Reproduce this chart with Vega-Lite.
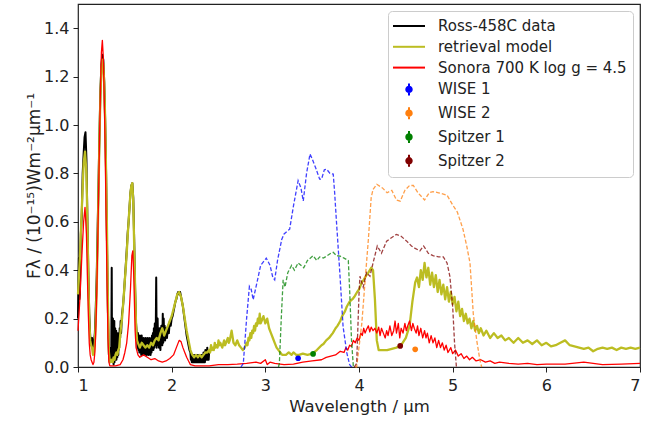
{
  "$schema": "https://vega.github.io/schema/vega-lite/v6.json",
  "width": 562,
  "height": 363,
  "autosize": {"type": "none"},
  "padding": {"left": 78, "top": 4, "right": 20, "bottom": 55},
  "background": "white",
  "config": {
    "font": "DejaVu Sans",
    "view": {"stroke": "#222222", "strokeWidth": 1.2},
    "axis": {
      "grid": false,
      "domain": false,
      "tickColor": "#222222",
      "tickSize": 5,
      "tickWidth": 1,
      "labelFont": "DejaVu Sans",
      "labelFontSize": 16,
      "labelColor": "#222222",
      "labelPadding": 4,
      "titleFont": "DejaVu Sans",
      "titleFontSize": 16.5,
      "titleFontWeight": "normal",
      "titleColor": "#222222"
    },
    "legend": {
      "labelFont": "DejaVu Sans",
      "labelFontSize": 15,
      "labelColor": "#222222"
    }
  },
  "datasets": {
    "spectra": [
      {"series":"Ross-458C data","wl":1.00,"flux":0.20},{"series":"Ross-458C data","wl":1.005,"flux":0.35},{"series":"Ross-458C data","wl":1.01,"flux":0.45},{"series":"Ross-458C data","wl":1.015,"flux":0.28},{"series":"Ross-458C data","wl":1.02,"flux":0.30},{"series":"Ross-458C data","wl":1.03,"flux":0.55},{"series":"Ross-458C data","wl":1.04,"flux":0.62},{"series":"Ross-458C data","wl":1.05,"flux":0.80},{"series":"Ross-458C data","wl":1.06,"flux":0.88},{"series":"Ross-458C data","wl":1.07,"flux":0.95},{"series":"Ross-458C data","wl":1.08,"flux":0.97},{"series":"Ross-458C data","wl":1.09,"flux":0.86},{"series":"Ross-458C data","wl":1.10,"flux":0.62},{"series":"Ross-458C data","wl":1.11,"flux":0.40},{"series":"Ross-458C data","wl":1.12,"flux":0.22},{"series":"Ross-458C data","wl":1.13,"flux":0.13},{"series":"Ross-458C data","wl":1.14,"flux":0.10},{"series":"Ross-458C data","wl":1.15,"flux":0.12},{"series":"Ross-458C data","wl":1.16,"flux":0.08},{"series":"Ross-458C data","wl":1.17,"flux":0.10},{"series":"Ross-458C data","wl":1.18,"flux":0.14},{"series":"Ross-458C data","wl":1.19,"flux":0.25},{"series":"Ross-458C data","wl":1.20,"flux":0.38},{"series":"Ross-458C data","wl":1.21,"flux":0.58},{"series":"Ross-458C data","wl":1.22,"flux":0.78},{"series":"Ross-458C data","wl":1.23,"flux":0.98},{"series":"Ross-458C data","wl":1.24,"flux":1.15},{"series":"Ross-458C data","wl":1.25,"flux":1.25},{"series":"Ross-458C data","wl":1.26,"flux":1.29},{"series":"Ross-458C data","wl":1.27,"flux":1.27},{"series":"Ross-458C data","wl":1.28,"flux":1.18},{"series":"Ross-458C data","wl":1.29,"flux":1.02},{"series":"Ross-458C data","wl":1.30,"flux":0.80},{"series":"Ross-458C data","wl":1.31,"flux":0.50},{"series":"Ross-458C data","wl":1.32,"flux":0.22},{"series":"Ross-458C data","wl":1.33,"flux":0.05},{"series":"Ross-458C data","wl":1.34,"flux":0.02},{"series":"Ross-458C data","wl":1.35,"flux":0.08},{"series":"Ross-458C data","wl":1.355,"flux":0.03},{"series":"Ross-458C data","wl":1.36,"flux":0.41},{"series":"Ross-458C data","wl":1.3625,"flux":0.10},{"series":"Ross-458C data","wl":1.365,"flux":0.03},{"series":"Ross-458C data","wl":1.3675,"flux":0.18},{"series":"Ross-458C data","wl":1.37,"flux":0.02},{"series":"Ross-458C data","wl":1.3725,"flux":0.20},{"series":"Ross-458C data","wl":1.375,"flux":0.03},{"series":"Ross-458C data","wl":1.3775,"flux":0.15},{"series":"Ross-458C data","wl":1.38,"flux":0.01},{"series":"Ross-458C data","wl":1.3825,"flux":0.17},{"series":"Ross-458C data","wl":1.385,"flux":0.04},{"series":"Ross-458C data","wl":1.3875,"flux":0.19},{"series":"Ross-458C data","wl":1.39,"flux":0.02},{"series":"Ross-458C data","wl":1.3925,"flux":0.14},{"series":"Ross-458C data","wl":1.395,"flux":0.04},{"series":"Ross-458C data","wl":1.3975,"flux":0.16},{"series":"Ross-458C data","wl":1.40,"flux":0.03},{"series":"Ross-458C data","wl":1.4025,"flux":0.13},{"series":"Ross-458C data","wl":1.405,"flux":0.05},{"series":"Ross-458C data","wl":1.4075,"flux":0.15},{"series":"Ross-458C data","wl":1.41,"flux":0.03},{"series":"Ross-458C data","wl":1.4125,"flux":0.12},{"series":"Ross-458C data","wl":1.415,"flux":0.05},{"series":"Ross-458C data","wl":1.4175,"flux":0.14},{"series":"Ross-458C data","wl":1.42,"flux":0.04},{"series":"Ross-458C data","wl":1.4225,"flux":0.12},{"series":"Ross-458C data","wl":1.425,"flux":0.06},{"series":"Ross-458C data","wl":1.4275,"flux":0.13},{"series":"Ross-458C data","wl":1.43,"flux":0.05},{"series":"Ross-458C data","wl":1.4325,"flux":0.12},{"series":"Ross-458C data","wl":1.435,"flux":0.07},{"series":"Ross-458C data","wl":1.4375,"flux":0.14},{"series":"Ross-458C data","wl":1.44,"flux":0.08},{"series":"Ross-458C data","wl":1.445,"flux":0.16},{"series":"Ross-458C data","wl":1.45,"flux":0.12},{"series":"Ross-458C data","wl":1.455,"flux":0.19},{"series":"Ross-458C data","wl":1.46,"flux":0.14},{"series":"Ross-458C data","wl":1.47,"flux":0.22},{"series":"Ross-458C data","wl":1.48,"flux":0.25},{"series":"Ross-458C data","wl":1.49,"flux":0.30},{"series":"Ross-458C data","wl":1.50,"flux":0.36},{"series":"Ross-458C data","wl":1.51,"flux":0.42},{"series":"Ross-458C data","wl":1.52,"flux":0.48},{"series":"Ross-458C data","wl":1.53,"flux":0.55},{"series":"Ross-458C data","wl":1.54,"flux":0.60},{"series":"Ross-458C data","wl":1.55,"flux":0.66},{"series":"Ross-458C data","wl":1.56,"flux":0.72},{"series":"Ross-458C data","wl":1.57,"flux":0.75},{"series":"Ross-458C data","wl":1.58,"flux":0.76},{"series":"Ross-458C data","wl":1.59,"flux":0.70},{"series":"Ross-458C data","wl":1.60,"flux":0.52},{"series":"Ross-458C data","wl":1.61,"flux":0.32},{"series":"Ross-458C data","wl":1.62,"flux":0.18},{"series":"Ross-458C data","wl":1.63,"flux":0.12},{"series":"Ross-458C data","wl":1.635,"flux":0.08},{"series":"Ross-458C data","wl":1.64,"flux":0.14},{"series":"Ross-458C data","wl":1.645,"flux":0.07},{"series":"Ross-458C data","wl":1.65,"flux":0.12},{"series":"Ross-458C data","wl":1.655,"flux":0.06},{"series":"Ross-458C data","wl":1.66,"flux":0.13},{"series":"Ross-458C data","wl":1.665,"flux":0.06},{"series":"Ross-458C data","wl":1.67,"flux":0.12},{"series":"Ross-458C data","wl":1.675,"flux":0.05},{"series":"Ross-458C data","wl":1.68,"flux":0.13},{"series":"Ross-458C data","wl":1.685,"flux":0.06},{"series":"Ross-458C data","wl":1.69,"flux":0.12},{"series":"Ross-458C data","wl":1.695,"flux":0.05},{"series":"Ross-458C data","wl":1.70,"flux":0.12},{"series":"Ross-458C data","wl":1.705,"flux":0.06},{"series":"Ross-458C data","wl":1.71,"flux":0.11},{"series":"Ross-458C data","wl":1.715,"flux":0.05},{"series":"Ross-458C data","wl":1.72,"flux":0.12},{"series":"Ross-458C data","wl":1.725,"flux":0.06},{"series":"Ross-458C data","wl":1.73,"flux":0.11},{"series":"Ross-458C data","wl":1.735,"flux":0.05},{"series":"Ross-458C data","wl":1.74,"flux":0.12},{"series":"Ross-458C data","wl":1.745,"flux":0.06},{"series":"Ross-458C data","wl":1.75,"flux":0.11},{"series":"Ross-458C data","wl":1.755,"flux":0.05},{"series":"Ross-458C data","wl":1.76,"flux":0.12},{"series":"Ross-458C data","wl":1.765,"flux":0.06},{"series":"Ross-458C data","wl":1.77,"flux":0.11},{"series":"Ross-458C data","wl":1.775,"flux":0.05},{"series":"Ross-458C data","wl":1.78,"flux":0.12},{"series":"Ross-458C data","wl":1.785,"flux":0.06},{"series":"Ross-458C data","wl":1.79,"flux":0.13},{"series":"Ross-458C data","wl":1.795,"flux":0.07},{"series":"Ross-458C data","wl":1.80,"flux":0.14},{"series":"Ross-458C data","wl":1.805,"flux":0.07},{"series":"Ross-458C data","wl":1.81,"flux":0.16},{"series":"Ross-458C data","wl":1.815,"flux":0.08},{"series":"Ross-458C data","wl":1.82,"flux":0.18},{"series":"Ross-458C data","wl":1.825,"flux":0.09},{"series":"Ross-458C data","wl":1.83,"flux":0.14},{"series":"Ross-458C data","wl":1.835,"flux":0.37},{"series":"Ross-458C data","wl":1.84,"flux":0.08},{"series":"Ross-458C data","wl":1.845,"flux":0.15},{"series":"Ross-458C data","wl":1.85,"flux":0.20},{"series":"Ross-458C data","wl":1.855,"flux":0.09},{"series":"Ross-458C data","wl":1.86,"flux":0.14},{"series":"Ross-458C data","wl":1.865,"flux":0.08},{"series":"Ross-458C data","wl":1.87,"flux":0.16},{"series":"Ross-458C data","wl":1.875,"flux":0.09},{"series":"Ross-458C data","wl":1.88,"flux":0.07},{"series":"Ross-458C data","wl":1.885,"flux":0.14},{"series":"Ross-458C data","wl":1.89,"flux":0.17},{"series":"Ross-458C data","wl":1.895,"flux":0.10},{"series":"Ross-458C data","wl":1.90,"flux":0.09},{"series":"Ross-458C data","wl":1.905,"flux":0.22},{"series":"Ross-458C data","wl":1.91,"flux":0.10},{"series":"Ross-458C data","wl":1.915,"flux":0.20},{"series":"Ross-458C data","wl":1.92,"flux":0.12},{"series":"Ross-458C data","wl":1.925,"flux":0.17},{"series":"Ross-458C data","wl":1.93,"flux":0.11},{"series":"Ross-458C data","wl":1.94,"flux":0.16},{"series":"Ross-458C data","wl":1.95,"flux":0.12},{"series":"Ross-458C data","wl":1.96,"flux":0.17},{"series":"Ross-458C data","wl":1.97,"flux":0.14},{"series":"Ross-458C data","wl":1.98,"flux":0.19},{"series":"Ross-458C data","wl":1.99,"flux":0.17},{"series":"Ross-458C data","wl":2.00,"flux":0.20},{"series":"Ross-458C data","wl":2.01,"flux":0.21},{"series":"Ross-458C data","wl":2.02,"flux":0.23},{"series":"Ross-458C data","wl":2.03,"flux":0.25},{"series":"Ross-458C data","wl":2.04,"flux":0.27},{"series":"Ross-458C data","wl":2.05,"flux":0.28},{"series":"Ross-458C data","wl":2.06,"flux":0.30},{"series":"Ross-458C data","wl":2.07,"flux":0.31},{"series":"Ross-458C data","wl":2.08,"flux":0.30},{"series":"Ross-458C data","wl":2.09,"flux":0.31},{"series":"Ross-458C data","wl":2.10,"flux":0.29},{"series":"Ross-458C data","wl":2.11,"flux":0.27},{"series":"Ross-458C data","wl":2.12,"flux":0.25},{"series":"Ross-458C data","wl":2.13,"flux":0.22},{"series":"Ross-458C data","wl":2.14,"flux":0.19},{"series":"Ross-458C data","wl":2.15,"flux":0.16},{"series":"Ross-458C data","wl":2.16,"flux":0.13},{"series":"Ross-458C data","wl":2.17,"flux":0.11},{"series":"Ross-458C data","wl":2.18,"flux":0.09},{"series":"Ross-458C data","wl":2.19,"flux":0.07},{"series":"Ross-458C data","wl":2.20,"flux":0.06},{"series":"Ross-458C data","wl":2.205,"flux":0.03},{"series":"Ross-458C data","wl":2.21,"flux":0.05},{"series":"Ross-458C data","wl":2.215,"flux":0.02},{"series":"Ross-458C data","wl":2.22,"flux":0.05},{"series":"Ross-458C data","wl":2.225,"flux":0.02},{"series":"Ross-458C data","wl":2.23,"flux":0.04},{"series":"Ross-458C data","wl":2.235,"flux":0.02},{"series":"Ross-458C data","wl":2.24,"flux":0.05},{"series":"Ross-458C data","wl":2.245,"flux":0.02},{"series":"Ross-458C data","wl":2.25,"flux":0.04},{"series":"Ross-458C data","wl":2.255,"flux":0.02},{"series":"Ross-458C data","wl":2.26,"flux":0.05},{"series":"Ross-458C data","wl":2.265,"flux":0.02},{"series":"Ross-458C data","wl":2.27,"flux":0.04},{"series":"Ross-458C data","wl":2.275,"flux":0.02},{"series":"Ross-458C data","wl":2.28,"flux":0.05},{"series":"Ross-458C data","wl":2.285,"flux":0.02},{"series":"Ross-458C data","wl":2.29,"flux":0.04},{"series":"Ross-458C data","wl":2.295,"flux":0.02},{"series":"Ross-458C data","wl":2.30,"flux":0.05},{"series":"Ross-458C data","wl":2.305,"flux":0.02},{"series":"Ross-458C data","wl":2.31,"flux":0.04},{"series":"Ross-458C data","wl":2.315,"flux":0.02},{"series":"Ross-458C data","wl":2.32,"flux":0.05},{"series":"Ross-458C data","wl":2.325,"flux":0.02},{"series":"Ross-458C data","wl":2.33,"flux":0.04},{"series":"Ross-458C data","wl":2.335,"flux":0.02},{"series":"Ross-458C data","wl":2.34,"flux":0.06},{"series":"Ross-458C data","wl":2.345,"flux":0.02},{"series":"Ross-458C data","wl":2.35,"flux":0.05},{"series":"Ross-458C data","wl":2.355,"flux":0.02},{"series":"Ross-458C data","wl":2.36,"flux":0.07},{"series":"Ross-458C data","wl":2.365,"flux":0.03},{"series":"Ross-458C data","wl":2.37,"flux":0.06},{"series":"Ross-458C data","wl":2.375,"flux":0.03},{"series":"Ross-458C data","wl":2.38,"flux":0.08},{"series":"Ross-458C data","wl":2.385,"flux":0.03},{"series":"Ross-458C data","wl":2.39,"flux":0.06},{"series":"Ross-458C data","wl":2.395,"flux":0.03},{"series":"Ross-458C data","wl":2.40,"flux":0.06},

      {"series":"retrieval model","wl":1.00,"flux":0.30},{"series":"retrieval model","wl":1.02,"flux":0.45},{"series":"retrieval model","wl":1.04,"flux":0.65},{"series":"retrieval model","wl":1.06,"flux":0.84},{"series":"retrieval model","wl":1.075,"flux":0.89},{"series":"retrieval model","wl":1.09,"flux":0.80},{"series":"retrieval model","wl":1.10,"flux":0.60},{"series":"retrieval model","wl":1.11,"flux":0.38},{"series":"retrieval model","wl":1.12,"flux":0.20},{"series":"retrieval model","wl":1.13,"flux":0.11},{"series":"retrieval model","wl":1.14,"flux":0.09},{"series":"retrieval model","wl":1.15,"flux":0.08},{"series":"retrieval model","wl":1.16,"flux":0.05},{"series":"retrieval model","wl":1.17,"flux":0.06},{"series":"retrieval model","wl":1.18,"flux":0.10},{"series":"retrieval model","wl":1.19,"flux":0.20},{"series":"retrieval model","wl":1.20,"flux":0.33},{"series":"retrieval model","wl":1.21,"flux":0.52},{"series":"retrieval model","wl":1.22,"flux":0.75},{"series":"retrieval model","wl":1.23,"flux":0.96},{"series":"retrieval model","wl":1.24,"flux":1.13},{"series":"retrieval model","wl":1.25,"flux":1.23},{"series":"retrieval model","wl":1.26,"flux":1.27},{"series":"retrieval model","wl":1.27,"flux":1.25},{"series":"retrieval model","wl":1.28,"flux":1.17},{"series":"retrieval model","wl":1.29,"flux":1.02},{"series":"retrieval model","wl":1.30,"flux":0.80},{"series":"retrieval model","wl":1.31,"flux":0.55},{"series":"retrieval model","wl":1.32,"flux":0.25},{"series":"retrieval model","wl":1.33,"flux":0.06},{"series":"retrieval model","wl":1.34,"flux":0.02},{"series":"retrieval model","wl":1.35,"flux":0.02},{"series":"retrieval model","wl":1.36,"flux":0.03},{"series":"retrieval model","wl":1.37,"flux":0.02},{"series":"retrieval model","wl":1.38,"flux":0.04},{"series":"retrieval model","wl":1.39,"flux":0.03},{"series":"retrieval model","wl":1.40,"flux":0.05},{"series":"retrieval model","wl":1.41,"flux":0.06},{"series":"retrieval model","wl":1.42,"flux":0.05},{"series":"retrieval model","wl":1.43,"flux":0.07},{"series":"retrieval model","wl":1.44,"flux":0.08},{"series":"retrieval model","wl":1.45,"flux":0.13},{"series":"retrieval model","wl":1.46,"flux":0.17},{"series":"retrieval model","wl":1.47,"flux":0.20},{"series":"retrieval model","wl":1.48,"flux":0.25},{"series":"retrieval model","wl":1.49,"flux":0.30},{"series":"retrieval model","wl":1.50,"flux":0.36},{"series":"retrieval model","wl":1.51,"flux":0.41},{"series":"retrieval model","wl":1.52,"flux":0.47},{"series":"retrieval model","wl":1.53,"flux":0.54},{"series":"retrieval model","wl":1.54,"flux":0.60},{"series":"retrieval model","wl":1.55,"flux":0.66},{"series":"retrieval model","wl":1.56,"flux":0.72},{"series":"retrieval model","wl":1.57,"flux":0.75},{"series":"retrieval model","wl":1.58,"flux":0.76},{"series":"retrieval model","wl":1.59,"flux":0.68},{"series":"retrieval model","wl":1.60,"flux":0.50},{"series":"retrieval model","wl":1.61,"flux":0.32},{"series":"retrieval model","wl":1.62,"flux":0.17},{"series":"retrieval model","wl":1.63,"flux":0.11},{"series":"retrieval model","wl":1.64,"flux":0.10},{"series":"retrieval model","wl":1.66,"flux":0.08},{"series":"retrieval model","wl":1.68,"flux":0.10},{"series":"retrieval model","wl":1.70,"flux":0.09},{"series":"retrieval model","wl":1.72,"flux":0.08},{"series":"retrieval model","wl":1.74,"flux":0.09},{"series":"retrieval model","wl":1.76,"flux":0.08},{"series":"retrieval model","wl":1.78,"flux":0.10},{"series":"retrieval model","wl":1.80,"flux":0.09},{"series":"retrieval model","wl":1.82,"flux":0.11},{"series":"retrieval model","wl":1.84,"flux":0.12},{"series":"retrieval model","wl":1.86,"flux":0.11},{"series":"retrieval model","wl":1.88,"flux":0.14},{"series":"retrieval model","wl":1.90,"flux":0.16},{"series":"retrieval model","wl":1.92,"flux":0.13},{"series":"retrieval model","wl":1.94,"flux":0.15},{"series":"retrieval model","wl":1.96,"flux":0.17},{"series":"retrieval model","wl":1.98,"flux":0.19},{"series":"retrieval model","wl":2.00,"flux":0.21},{"series":"retrieval model","wl":2.02,"flux":0.24},{"series":"retrieval model","wl":2.04,"flux":0.27},{"series":"retrieval model","wl":2.06,"flux":0.30},{"series":"retrieval model","wl":2.08,"flux":0.31},{"series":"retrieval model","wl":2.10,"flux":0.29},{"series":"retrieval model","wl":2.12,"flux":0.25},{"series":"retrieval model","wl":2.14,"flux":0.20},{"series":"retrieval model","wl":2.16,"flux":0.15},{"series":"retrieval model","wl":2.18,"flux":0.11},{"series":"retrieval model","wl":2.20,"flux":0.07},{"series":"retrieval model","wl":2.22,"flux":0.05},{"series":"retrieval model","wl":2.24,"flux":0.04},{"series":"retrieval model","wl":2.26,"flux":0.05},{"series":"retrieval model","wl":2.28,"flux":0.04},{"series":"retrieval model","wl":2.30,"flux":0.05},{"series":"retrieval model","wl":2.32,"flux":0.04},{"series":"retrieval model","wl":2.34,"flux":0.05},{"series":"retrieval model","wl":2.36,"flux":0.06},{"series":"retrieval model","wl":2.38,"flux":0.06},{"series":"retrieval model","wl":2.40,"flux":0.07},{"series":"retrieval model","wl":2.41,"flux":0.06},{"series":"retrieval model","wl":2.42,"flux":0.09},{"series":"retrieval model","wl":2.43,"flux":0.07},{"series":"retrieval model","wl":2.44,"flux":0.08},{"series":"retrieval model","wl":2.45,"flux":0.07},{"series":"retrieval model","wl":2.46,"flux":0.10},{"series":"retrieval model","wl":2.47,"flux":0.08},{"series":"retrieval model","wl":2.48,"flux":0.09},{"series":"retrieval model","wl":2.49,"flux":0.08},{"series":"retrieval model","wl":2.50,"flux":0.11},{"series":"retrieval model","wl":2.51,"flux":0.09},{"series":"retrieval model","wl":2.52,"flux":0.10},{"series":"retrieval model","wl":2.54,"flux":0.08},{"series":"retrieval model","wl":2.56,"flux":0.11},{"series":"retrieval model","wl":2.57,"flux":0.09},{"series":"retrieval model","wl":2.58,"flux":0.10},{"series":"retrieval model","wl":2.60,"flux":0.12},{"series":"retrieval model","wl":2.61,"flux":0.10},{"series":"retrieval model","wl":2.62,"flux":0.11},{"series":"retrieval model","wl":2.64,"flux":0.15},{"series":"retrieval model","wl":2.66,"flux":0.10},{"series":"retrieval model","wl":2.68,"flux":0.09},{"series":"retrieval model","wl":2.70,"flux":0.11},{"series":"retrieval model","wl":2.72,"flux":0.09},{"series":"retrieval model","wl":2.74,"flux":0.08},{"series":"retrieval model","wl":2.76,"flux":0.07},{"series":"retrieval model","wl":2.78,"flux":0.08},{"series":"retrieval model","wl":2.80,"flux":0.10},{"series":"retrieval model","wl":2.81,"flux":0.09},{"series":"retrieval model","wl":2.82,"flux":0.12},{"series":"retrieval model","wl":2.83,"flux":0.11},{"series":"retrieval model","wl":2.84,"flux":0.14},{"series":"retrieval model","wl":2.85,"flux":0.12},{"series":"retrieval model","wl":2.86,"flux":0.15},{"series":"retrieval model","wl":2.87,"flux":0.14},{"series":"retrieval model","wl":2.88,"flux":0.17},{"series":"retrieval model","wl":2.89,"flux":0.15},{"series":"retrieval model","wl":2.90,"flux":0.18},{"series":"retrieval model","wl":2.91,"flux":0.17},{"series":"retrieval model","wl":2.92,"flux":0.20},{"series":"retrieval model","wl":2.93,"flux":0.18},{"series":"retrieval model","wl":2.94,"flux":0.22},{"series":"retrieval model","wl":2.95,"flux":0.18},{"series":"retrieval model","wl":2.96,"flux":0.19},{"series":"retrieval model","wl":2.98,"flux":0.21},{"series":"retrieval model","wl":3.00,"flux":0.18},{"series":"retrieval model","wl":3.02,"flux":0.20},{"series":"retrieval model","wl":3.04,"flux":0.16},{"series":"retrieval model","wl":3.06,"flux":0.14},{"series":"retrieval model","wl":3.08,"flux":0.12},{"series":"retrieval model","wl":3.10,"flux":0.10},{"series":"retrieval model","wl":3.12,"flux":0.08},{"series":"retrieval model","wl":3.14,"flux":0.07},{"series":"retrieval model","wl":3.16,"flux":0.06},{"series":"retrieval model","wl":3.18,"flux":0.05},{"series":"retrieval model","wl":3.20,"flux":0.05},{"series":"retrieval model","wl":3.22,"flux":0.05},{"series":"retrieval model","wl":3.25,"flux":0.06},{"series":"retrieval model","wl":3.28,"flux":0.05},{"series":"retrieval model","wl":3.30,"flux":0.06},{"series":"retrieval model","wl":3.33,"flux":0.05},{"series":"retrieval model","wl":3.36,"flux":0.05},{"series":"retrieval model","wl":3.40,"flux":0.055},{"series":"retrieval model","wl":3.45,"flux":0.05},{"series":"retrieval model","wl":3.50,"flux":0.055},{"series":"retrieval model","wl":3.55,"flux":0.07},{"series":"retrieval model","wl":3.60,"flux":0.09},{"series":"retrieval model","wl":3.62,"flux":0.095},{"series":"retrieval model","wl":3.65,"flux":0.11},{"series":"retrieval model","wl":3.68,"flux":0.12},{"series":"retrieval model","wl":3.70,"flux":0.13},{"series":"retrieval model","wl":3.72,"flux":0.14},{"series":"retrieval model","wl":3.75,"flux":0.16},{"series":"retrieval model","wl":3.77,"flux":0.17},{"series":"retrieval model","wl":3.80,"flux":0.19},{"series":"retrieval model","wl":3.82,"flux":0.21},{"series":"retrieval model","wl":3.85,"flux":0.23},{"series":"retrieval model","wl":3.87,"flux":0.25},{"series":"retrieval model","wl":3.90,"flux":0.27},{"series":"retrieval model","wl":3.93,"flux":0.28},{"series":"retrieval model","wl":3.95,"flux":0.29},{"series":"retrieval model","wl":3.98,"flux":0.31},{"series":"retrieval model","wl":4.00,"flux":0.32},{"series":"retrieval model","wl":4.03,"flux":0.35},{"series":"retrieval model","wl":4.05,"flux":0.36},{"series":"retrieval model","wl":4.08,"flux":0.38},{"series":"retrieval model","wl":4.10,"flux":0.39},{"series":"retrieval model","wl":4.13,"flux":0.41},{"series":"retrieval model","wl":4.15,"flux":0.40},{"series":"retrieval model","wl":4.17,"flux":0.28},{"series":"retrieval model","wl":4.19,"flux":0.11},{"series":"retrieval model","wl":4.21,"flux":0.07},{"series":"retrieval model","wl":4.25,"flux":0.07},{"series":"retrieval model","wl":4.30,"flux":0.07},{"series":"retrieval model","wl":4.35,"flux":0.075},{"series":"retrieval model","wl":4.40,"flux":0.08},{"series":"retrieval model","wl":4.45,"flux":0.09},{"series":"retrieval model","wl":4.50,"flux":0.12},{"series":"retrieval model","wl":4.54,"flux":0.17},{"series":"retrieval model","wl":4.57,"flux":0.27},{"series":"retrieval model","wl":4.60,"flux":0.35},{"series":"retrieval model","wl":4.62,"flux":0.37},{"series":"retrieval model","wl":4.64,"flux":0.33},{"series":"retrieval model","wl":4.66,"flux":0.40},{"series":"retrieval model","wl":4.68,"flux":0.36},{"series":"retrieval model","wl":4.70,"flux":0.43},{"series":"retrieval model","wl":4.72,"flux":0.37},{"series":"retrieval model","wl":4.74,"flux":0.41},{"series":"retrieval model","wl":4.76,"flux":0.34},{"series":"retrieval model","wl":4.78,"flux":0.39},{"series":"retrieval model","wl":4.80,"flux":0.33},{"series":"retrieval model","wl":4.82,"flux":0.38},{"series":"retrieval model","wl":4.84,"flux":0.31},{"series":"retrieval model","wl":4.86,"flux":0.36},{"series":"retrieval model","wl":4.88,"flux":0.30},{"series":"retrieval model","wl":4.90,"flux":0.34},{"series":"retrieval model","wl":4.92,"flux":0.28},{"series":"retrieval model","wl":4.94,"flux":0.33},{"series":"retrieval model","wl":4.96,"flux":0.27},{"series":"retrieval model","wl":4.98,"flux":0.31},{"series":"retrieval model","wl":5.00,"flux":0.26},{"series":"retrieval model","wl":5.02,"flux":0.29},{"series":"retrieval model","wl":5.04,"flux":0.23},{"series":"retrieval model","wl":5.06,"flux":0.27},{"series":"retrieval model","wl":5.08,"flux":0.21},{"series":"retrieval model","wl":5.10,"flux":0.24},{"series":"retrieval model","wl":5.12,"flux":0.19},{"series":"retrieval model","wl":5.14,"flux":0.22},{"series":"retrieval model","wl":5.16,"flux":0.18},{"series":"retrieval model","wl":5.18,"flux":0.20},{"series":"retrieval model","wl":5.20,"flux":0.16},{"series":"retrieval model","wl":5.22,"flux":0.19},{"series":"retrieval model","wl":5.24,"flux":0.15},{"series":"retrieval model","wl":5.26,"flux":0.17},{"series":"retrieval model","wl":5.28,"flux":0.14},{"series":"retrieval model","wl":5.30,"flux":0.16},{"series":"retrieval model","wl":5.33,"flux":0.13},{"series":"retrieval model","wl":5.36,"flux":0.15},{"series":"retrieval model","wl":5.40,"flux":0.12},{"series":"retrieval model","wl":5.44,"flux":0.14},{"series":"retrieval model","wl":5.48,"flux":0.12},{"series":"retrieval model","wl":5.52,"flux":0.13},{"series":"retrieval model","wl":5.56,"flux":0.11},{"series":"retrieval model","wl":5.60,"flux":0.12},{"series":"retrieval model","wl":5.65,"flux":0.10},{"series":"retrieval model","wl":5.70,"flux":0.12},{"series":"retrieval model","wl":5.75,"flux":0.10},{"series":"retrieval model","wl":5.80,"flux":0.11},{"series":"retrieval model","wl":5.85,"flux":0.095},{"series":"retrieval model","wl":5.90,"flux":0.11},{"series":"retrieval model","wl":5.95,"flux":0.09},{"series":"retrieval model","wl":6.00,"flux":0.10},{"series":"retrieval model","wl":6.05,"flux":0.085},{"series":"retrieval model","wl":6.10,"flux":0.09},{"series":"retrieval model","wl":6.15,"flux":0.10},{"series":"retrieval model","wl":6.20,"flux":0.11},{"series":"retrieval model","wl":6.25,"flux":0.09},{"series":"retrieval model","wl":6.30,"flux":0.085},{"series":"retrieval model","wl":6.35,"flux":0.08},{"series":"retrieval model","wl":6.40,"flux":0.075},{"series":"retrieval model","wl":6.45,"flux":0.08},{"series":"retrieval model","wl":6.50,"flux":0.065},{"series":"retrieval model","wl":6.55,"flux":0.075},{"series":"retrieval model","wl":6.60,"flux":0.08},{"series":"retrieval model","wl":6.65,"flux":0.075},{"series":"retrieval model","wl":6.70,"flux":0.08},{"series":"retrieval model","wl":6.75,"flux":0.07},{"series":"retrieval model","wl":6.80,"flux":0.08},{"series":"retrieval model","wl":6.85,"flux":0.075},{"series":"retrieval model","wl":6.90,"flux":0.08},{"series":"retrieval model","wl":6.95,"flux":0.075},{"series":"retrieval model","wl":7.00,"flux":0.08},

      {"series":"Sonora 700 K log g = 4.5","wl":1.00,"flux":0.15},{"series":"Sonora 700 K log g = 4.5","wl":1.02,"flux":0.28},{"series":"Sonora 700 K log g = 4.5","wl":1.04,"flux":0.45},{"series":"Sonora 700 K log g = 4.5","wl":1.06,"flux":0.60},{"series":"Sonora 700 K log g = 4.5","wl":1.075,"flux":0.66},{"series":"Sonora 700 K log g = 4.5","wl":1.09,"flux":0.55},{"series":"Sonora 700 K log g = 4.5","wl":1.10,"flux":0.38},{"series":"Sonora 700 K log g = 4.5","wl":1.11,"flux":0.22},{"series":"Sonora 700 K log g = 4.5","wl":1.12,"flux":0.10},{"series":"Sonora 700 K log g = 4.5","wl":1.13,"flux":0.05},{"series":"Sonora 700 K log g = 4.5","wl":1.14,"flux":0.03},{"series":"Sonora 700 K log g = 4.5","wl":1.15,"flux":0.02},{"series":"Sonora 700 K log g = 4.5","wl":1.16,"flux":0.01},{"series":"Sonora 700 K log g = 4.5","wl":1.17,"flux":0.02},{"series":"Sonora 700 K log g = 4.5","wl":1.18,"flux":0.06},{"series":"Sonora 700 K log g = 4.5","wl":1.19,"flux":0.15},{"series":"Sonora 700 K log g = 4.5","wl":1.20,"flux":0.30},{"series":"Sonora 700 K log g = 4.5","wl":1.21,"flux":0.50},{"series":"Sonora 700 K log g = 4.5","wl":1.22,"flux":0.72},{"series":"Sonora 700 K log g = 4.5","wl":1.23,"flux":0.95},{"series":"Sonora 700 K log g = 4.5","wl":1.24,"flux":1.15},{"series":"Sonora 700 K log g = 4.5","wl":1.25,"flux":1.30},{"series":"Sonora 700 K log g = 4.5","wl":1.26,"flux":1.35},{"series":"Sonora 700 K log g = 4.5","wl":1.27,"flux":1.28},{"series":"Sonora 700 K log g = 4.5","wl":1.28,"flux":1.12},{"series":"Sonora 700 K log g = 4.5","wl":1.29,"flux":0.90},{"series":"Sonora 700 K log g = 4.5","wl":1.30,"flux":0.62},{"series":"Sonora 700 K log g = 4.5","wl":1.31,"flux":0.35},{"series":"Sonora 700 K log g = 4.5","wl":1.32,"flux":0.12},{"series":"Sonora 700 K log g = 4.5","wl":1.33,"flux":0.02},{"series":"Sonora 700 K log g = 4.5","wl":1.34,"flux":0.005},{"series":"Sonora 700 K log g = 4.5","wl":1.40,"flux":0.005},{"series":"Sonora 700 K log g = 4.5","wl":1.45,"flux":0.01},{"series":"Sonora 700 K log g = 4.5","wl":1.48,"flux":0.03},{"series":"Sonora 700 K log g = 4.5","wl":1.50,"flux":0.06},{"series":"Sonora 700 K log g = 4.5","wl":1.52,"flux":0.10},{"series":"Sonora 700 K log g = 4.5","wl":1.54,"flux":0.18},{"series":"Sonora 700 K log g = 4.5","wl":1.56,"flux":0.32},{"series":"Sonora 700 K log g = 4.5","wl":1.575,"flux":0.46},{"series":"Sonora 700 K log g = 4.5","wl":1.585,"flux":0.48},{"series":"Sonora 700 K log g = 4.5","wl":1.595,"flux":0.38},{"series":"Sonora 700 K log g = 4.5","wl":1.61,"flux":0.15},{"series":"Sonora 700 K log g = 4.5","wl":1.62,"flux":0.08},{"series":"Sonora 700 K log g = 4.5","wl":1.64,"flux":0.05},{"series":"Sonora 700 K log g = 4.5","wl":1.66,"flux":0.04},{"series":"Sonora 700 K log g = 4.5","wl":1.70,"flux":0.05},{"series":"Sonora 700 K log g = 4.5","wl":1.74,"flux":0.04},{"series":"Sonora 700 K log g = 4.5","wl":1.78,"flux":0.03},{"series":"Sonora 700 K log g = 4.5","wl":1.82,"flux":0.035},{"series":"Sonora 700 K log g = 4.5","wl":1.86,"flux":0.025},{"series":"Sonora 700 K log g = 4.5","wl":1.90,"flux":0.02},{"series":"Sonora 700 K log g = 4.5","wl":1.94,"flux":0.025},{"series":"Sonora 700 K log g = 4.5","wl":1.98,"flux":0.035},{"series":"Sonora 700 K log g = 4.5","wl":2.02,"flux":0.05},{"series":"Sonora 700 K log g = 4.5","wl":2.05,"flux":0.08},{"series":"Sonora 700 K log g = 4.5","wl":2.08,"flux":0.11},{"series":"Sonora 700 K log g = 4.5","wl":2.10,"flux":0.105},{"series":"Sonora 700 K log g = 4.5","wl":2.12,"flux":0.08},{"series":"Sonora 700 K log g = 4.5","wl":2.14,"flux":0.06},{"series":"Sonora 700 K log g = 4.5","wl":2.16,"flux":0.04},{"series":"Sonora 700 K log g = 4.5","wl":2.18,"flux":0.025},{"series":"Sonora 700 K log g = 4.5","wl":2.20,"flux":0.01},{"series":"Sonora 700 K log g = 4.5","wl":2.25,"flux":0.005},{"series":"Sonora 700 K log g = 4.5","wl":2.30,"flux":0.005},{"series":"Sonora 700 K log g = 4.5","wl":2.40,"flux":0.005},{"series":"Sonora 700 K log g = 4.5","wl":2.50,"flux":0.01},{"series":"Sonora 700 K log g = 4.5","wl":2.60,"flux":0.01},{"series":"Sonora 700 K log g = 4.5","wl":2.70,"flux":0.012},{"series":"Sonora 700 K log g = 4.5","wl":2.80,"flux":0.015},{"series":"Sonora 700 K log g = 4.5","wl":2.90,"flux":0.02},{"series":"Sonora 700 K log g = 4.5","wl":2.95,"flux":0.015},{"series":"Sonora 700 K log g = 4.5","wl":3.00,"flux":0.03},{"series":"Sonora 700 K log g = 4.5","wl":3.02,"flux":0.01},{"series":"Sonora 700 K log g = 4.5","wl":3.05,"flux":0.02},{"series":"Sonora 700 K log g = 4.5","wl":3.10,"flux":0.015},{"series":"Sonora 700 K log g = 4.5","wl":3.20,"flux":0.01},{"series":"Sonora 700 K log g = 4.5","wl":3.30,"flux":0.012},{"series":"Sonora 700 K log g = 4.5","wl":3.40,"flux":0.02},{"series":"Sonora 700 K log g = 4.5","wl":3.50,"flux":0.025},{"series":"Sonora 700 K log g = 4.5","wl":3.60,"flux":0.03},{"series":"Sonora 700 K log g = 4.5","wl":3.65,"flux":0.04},{"series":"Sonora 700 K log g = 4.5","wl":3.70,"flux":0.045},{"series":"Sonora 700 K log g = 4.5","wl":3.75,"flux":0.05},{"series":"Sonora 700 K log g = 4.5","wl":3.80,"flux":0.065},{"series":"Sonora 700 K log g = 4.5","wl":3.84,"flux":0.06},{"series":"Sonora 700 K log g = 4.5","wl":3.86,"flux":0.08},{"series":"Sonora 700 K log g = 4.5","wl":3.88,"flux":0.07},{"series":"Sonora 700 K log g = 4.5","wl":3.90,"flux":0.09},{"series":"Sonora 700 K log g = 4.5","wl":3.92,"flux":0.085},{"series":"Sonora 700 K log g = 4.5","wl":3.94,"flux":0.11},{"series":"Sonora 700 K log g = 4.5","wl":3.96,"flux":0.10},{"series":"Sonora 700 K log g = 4.5","wl":3.98,"flux":0.12},{"series":"Sonora 700 K log g = 4.5","wl":4.00,"flux":0.11},{"series":"Sonora 700 K log g = 4.5","wl":4.02,"flux":0.14},{"series":"Sonora 700 K log g = 4.5","wl":4.035,"flux":0.13},{"series":"Sonora 700 K log g = 4.5","wl":4.05,"flux":0.16},{"series":"Sonora 700 K log g = 4.5","wl":4.065,"flux":0.14},{"series":"Sonora 700 K log g = 4.5","wl":4.08,"flux":0.155},{"series":"Sonora 700 K log g = 4.5","wl":4.10,"flux":0.17},{"series":"Sonora 700 K log g = 4.5","wl":4.115,"flux":0.145},{"series":"Sonora 700 K log g = 4.5","wl":4.13,"flux":0.165},{"series":"Sonora 700 K log g = 4.5","wl":4.15,"flux":0.15},{"series":"Sonora 700 K log g = 4.5","wl":4.17,"flux":0.16},{"series":"Sonora 700 K log g = 4.5","wl":4.19,"flux":0.14},{"series":"Sonora 700 K log g = 4.5","wl":4.21,"flux":0.165},{"series":"Sonora 700 K log g = 4.5","wl":4.225,"flux":0.13},{"series":"Sonora 700 K log g = 4.5","wl":4.24,"flux":0.16},{"series":"Sonora 700 K log g = 4.5","wl":4.26,"flux":0.14},{"series":"Sonora 700 K log g = 4.5","wl":4.28,"flux":0.12},{"series":"Sonora 700 K log g = 4.5","wl":4.295,"flux":0.15},{"series":"Sonora 700 K log g = 4.5","wl":4.31,"flux":0.13},{"series":"Sonora 700 K log g = 4.5","wl":4.33,"flux":0.17},{"series":"Sonora 700 K log g = 4.5","wl":4.35,"flux":0.13},{"series":"Sonora 700 K log g = 4.5","wl":4.37,"flux":0.15},{"series":"Sonora 700 K log g = 4.5","wl":4.385,"flux":0.19},{"series":"Sonora 700 K log g = 4.5","wl":4.40,"flux":0.14},{"series":"Sonora 700 K log g = 4.5","wl":4.42,"flux":0.18},{"series":"Sonora 700 K log g = 4.5","wl":4.435,"flux":0.12},{"series":"Sonora 700 K log g = 4.5","wl":4.45,"flux":0.16},{"series":"Sonora 700 K log g = 4.5","wl":4.47,"flux":0.14},{"series":"Sonora 700 K log g = 4.5","wl":4.49,"flux":0.18},{"series":"Sonora 700 K log g = 4.5","wl":4.505,"flux":0.15},{"series":"Sonora 700 K log g = 4.5","wl":4.52,"flux":0.17},{"series":"Sonora 700 K log g = 4.5","wl":4.54,"flux":0.19},{"series":"Sonora 700 K log g = 4.5","wl":4.56,"flux":0.15},{"series":"Sonora 700 K log g = 4.5","wl":4.575,"flux":0.18},{"series":"Sonora 700 K log g = 4.5","wl":4.59,"flux":0.16},{"series":"Sonora 700 K log g = 4.5","wl":4.61,"flux":0.14},{"series":"Sonora 700 K log g = 4.5","wl":4.625,"flux":0.17},{"series":"Sonora 700 K log g = 4.5","wl":4.64,"flux":0.13},{"series":"Sonora 700 K log g = 4.5","wl":4.66,"flux":0.16},{"series":"Sonora 700 K log g = 4.5","wl":4.68,"flux":0.12},{"series":"Sonora 700 K log g = 4.5","wl":4.70,"flux":0.15},{"series":"Sonora 700 K log g = 4.5","wl":4.715,"flux":0.12},{"series":"Sonora 700 K log g = 4.5","wl":4.73,"flux":0.14},{"series":"Sonora 700 K log g = 4.5","wl":4.75,"flux":0.10},{"series":"Sonora 700 K log g = 4.5","wl":4.77,"flux":0.13},{"series":"Sonora 700 K log g = 4.5","wl":4.79,"flux":0.10},{"series":"Sonora 700 K log g = 4.5","wl":4.81,"flux":0.12},{"series":"Sonora 700 K log g = 4.5","wl":4.83,"flux":0.08},{"series":"Sonora 700 K log g = 4.5","wl":4.85,"flux":0.11},{"series":"Sonora 700 K log g = 4.5","wl":4.87,"flux":0.08},{"series":"Sonora 700 K log g = 4.5","wl":4.89,"flux":0.10},{"series":"Sonora 700 K log g = 4.5","wl":4.91,"flux":0.07},{"series":"Sonora 700 K log g = 4.5","wl":4.93,"flux":0.09},{"series":"Sonora 700 K log g = 4.5","wl":4.95,"flux":0.06},{"series":"Sonora 700 K log g = 4.5","wl":4.98,"flux":0.08},{"series":"Sonora 700 K log g = 4.5","wl":5.00,"flux":0.055},{"series":"Sonora 700 K log g = 4.5","wl":5.03,"flux":0.07},{"series":"Sonora 700 K log g = 4.5","wl":5.06,"flux":0.045},{"series":"Sonora 700 K log g = 4.5","wl":5.09,"flux":0.055},{"series":"Sonora 700 K log g = 4.5","wl":5.12,"flux":0.035},{"series":"Sonora 700 K log g = 4.5","wl":5.15,"flux":0.045},{"series":"Sonora 700 K log g = 4.5","wl":5.18,"flux":0.03},{"series":"Sonora 700 K log g = 4.5","wl":5.21,"flux":0.04},{"series":"Sonora 700 K log g = 4.5","wl":5.25,"flux":0.025},{"series":"Sonora 700 K log g = 4.5","wl":5.30,"flux":0.03},{"series":"Sonora 700 K log g = 4.5","wl":5.35,"flux":0.02},{"series":"Sonora 700 K log g = 4.5","wl":5.40,"flux":0.025},{"series":"Sonora 700 K log g = 4.5","wl":5.45,"flux":0.015},{"series":"Sonora 700 K log g = 4.5","wl":5.50,"flux":0.02},{"series":"Sonora 700 K log g = 4.5","wl":5.60,"flux":0.015},{"series":"Sonora 700 K log g = 4.5","wl":5.70,"flux":0.012},{"series":"Sonora 700 K log g = 4.5","wl":5.80,"flux":0.015},{"series":"Sonora 700 K log g = 4.5","wl":5.90,"flux":0.01},{"series":"Sonora 700 K log g = 4.5","wl":6.00,"flux":0.012},{"series":"Sonora 700 K log g = 4.5","wl":6.20,"flux":0.012},{"series":"Sonora 700 K log g = 4.5","wl":6.40,"flux":0.02},{"series":"Sonora 700 K log g = 4.5","wl":6.50,"flux":0.015},{"series":"Sonora 700 K log g = 4.5","wl":6.60,"flux":0.01},{"series":"Sonora 700 K log g = 4.5","wl":6.80,"flux":0.012},{"series":"Sonora 700 K log g = 4.5","wl":7.00,"flux":0.015}
    ],
    "bands": [
      {"series":"WISE 1","wl":2.74,"flux":0.0},{"series":"WISE 1","wl":2.765,"flux":0.015},{"series":"WISE 1","wl":2.80,"flux":0.2},{"series":"WISE 1","wl":2.83,"flux":0.333},{"series":"WISE 1","wl":2.85,"flux":0.32},{"series":"WISE 1","wl":2.87,"flux":0.278},{"series":"WISE 1","wl":2.90,"flux":0.33},{"series":"WISE 1","wl":2.95,"flux":0.42},{"series":"WISE 1","wl":3.01,"flux":0.45},{"series":"WISE 1","wl":3.05,"flux":0.42},{"series":"WISE 1","wl":3.08,"flux":0.37},{"series":"WISE 1","wl":3.10,"flux":0.36},{"series":"WISE 1","wl":3.13,"flux":0.44},{"series":"WISE 1","wl":3.175,"flux":0.527},{"series":"WISE 1","wl":3.20,"flux":0.55},{"series":"WISE 1","wl":3.23,"flux":0.56},{"series":"WISE 1","wl":3.26,"flux":0.57},{"series":"WISE 1","wl":3.30,"flux":0.665},{"series":"WISE 1","wl":3.35,"flux":0.77},{"series":"WISE 1","wl":3.38,"flux":0.74},{"series":"WISE 1","wl":3.405,"flux":0.686},{"series":"WISE 1","wl":3.44,"flux":0.80},{"series":"WISE 1","wl":3.477,"flux":0.88},{"series":"WISE 1","wl":3.50,"flux":0.86},{"series":"WISE 1","wl":3.54,"flux":0.82},{"series":"WISE 1","wl":3.58,"flux":0.776},{"series":"WISE 1","wl":3.60,"flux":0.776},{"series":"WISE 1","wl":3.63,"flux":0.815},{"series":"WISE 1","wl":3.655,"flux":0.817},{"series":"WISE 1","wl":3.69,"flux":0.80},{"series":"WISE 1","wl":3.725,"flux":0.797},{"series":"WISE 1","wl":3.74,"flux":0.72},{"series":"WISE 1","wl":3.76,"flux":0.597},{"series":"WISE 1","wl":3.78,"flux":0.48},{"series":"WISE 1","wl":3.80,"flux":0.36},{"series":"WISE 1","wl":3.83,"flux":0.167},{"series":"WISE 1","wl":3.87,"flux":0.058},{"series":"WISE 1","wl":3.90,"flux":0.01},{"series":"WISE 1","wl":3.92,"flux":0.0},
      {"series":"Spitzer 1","wl":3.14,"flux":0.0},{"series":"Spitzer 1","wl":3.15,"flux":0.015},{"series":"Spitzer 1","wl":3.17,"flux":0.2},{"series":"Spitzer 1","wl":3.19,"flux":0.36},{"series":"Spitzer 1","wl":3.21,"flux":0.33},{"series":"Spitzer 1","wl":3.24,"flux":0.39},{"series":"Spitzer 1","wl":3.28,"flux":0.42},{"series":"Spitzer 1","wl":3.31,"flux":0.40},{"series":"Spitzer 1","wl":3.35,"flux":0.43},{"series":"Spitzer 1","wl":3.41,"flux":0.41},{"series":"Spitzer 1","wl":3.45,"flux":0.44},{"series":"Spitzer 1","wl":3.51,"flux":0.46},{"series":"Spitzer 1","wl":3.55,"flux":0.44},{"series":"Spitzer 1","wl":3.58,"flux":0.455},{"series":"Spitzer 1","wl":3.62,"flux":0.45},{"series":"Spitzer 1","wl":3.66,"flux":0.46},{"series":"Spitzer 1","wl":3.70,"flux":0.47},{"series":"Spitzer 1","wl":3.725,"flux":0.474},{"series":"Spitzer 1","wl":3.76,"flux":0.46},{"series":"Spitzer 1","wl":3.80,"flux":0.458},{"series":"Spitzer 1","wl":3.84,"flux":0.45},{"series":"Spitzer 1","wl":3.886,"flux":0.44},{"series":"Spitzer 1","wl":3.90,"flux":0.32},{"series":"Spitzer 1","wl":3.92,"flux":0.112},{"series":"Spitzer 1","wl":3.94,"flux":0.0},
      {"series":"WISE 2","wl":3.96,"flux":0.0},{"series":"WISE 2","wl":3.975,"flux":0.0},{"series":"WISE 2","wl":4.03,"flux":0.18},{"series":"WISE 2","wl":4.07,"flux":0.38},{"series":"WISE 2","wl":4.10,"flux":0.527},{"series":"WISE 2","wl":4.13,"flux":0.70},{"series":"WISE 2","wl":4.15,"flux":0.734},{"series":"WISE 2","wl":4.19,"flux":0.755},{"series":"WISE 2","wl":4.25,"flux":0.74},{"series":"WISE 2","wl":4.30,"flux":0.72},{"series":"WISE 2","wl":4.35,"flux":0.73},{"series":"WISE 2","wl":4.40,"flux":0.69},{"series":"WISE 2","wl":4.44,"flux":0.685},{"series":"WISE 2","wl":4.49,"flux":0.73},{"series":"WISE 2","wl":4.54,"flux":0.75},{"series":"WISE 2","wl":4.58,"flux":0.75},{"series":"WISE 2","wl":4.63,"flux":0.72},{"series":"WISE 2","wl":4.70,"flux":0.69},{"series":"WISE 2","wl":4.75,"flux":0.72},{"series":"WISE 2","wl":4.79,"flux":0.725},{"series":"WISE 2","wl":4.85,"flux":0.72},{"series":"WISE 2","wl":4.94,"flux":0.71},{"series":"WISE 2","wl":5.00,"flux":0.67},{"series":"WISE 2","wl":5.05,"flux":0.64},{"series":"WISE 2","wl":5.11,"flux":0.57},{"series":"WISE 2","wl":5.15,"flux":0.50},{"series":"WISE 2","wl":5.185,"flux":0.43},{"series":"WISE 2","wl":5.22,"flux":0.22},{"series":"WISE 2","wl":5.257,"flux":0.11},{"series":"WISE 2","wl":5.29,"flux":0.03},{"series":"WISE 2","wl":5.31,"flux":0.0},
      {"series":"Spitzer 2","wl":3.95,"flux":0.0},{"series":"Spitzer 2","wl":3.975,"flux":0.015},{"series":"Spitzer 2","wl":4.00,"flux":0.30},{"series":"Spitzer 2","wl":4.01,"flux":0.375},{"series":"Spitzer 2","wl":4.045,"flux":0.33},{"series":"Spitzer 2","wl":4.08,"flux":0.39},{"series":"Spitzer 2","wl":4.117,"flux":0.375},{"series":"Spitzer 2","wl":4.15,"flux":0.43},{"series":"Spitzer 2","wl":4.195,"flux":0.50},{"series":"Spitzer 2","wl":4.24,"flux":0.47},{"series":"Spitzer 2","wl":4.295,"flux":0.52},{"series":"Spitzer 2","wl":4.35,"flux":0.535},{"series":"Spitzer 2","wl":4.40,"flux":0.548},{"series":"Spitzer 2","wl":4.45,"flux":0.54},{"series":"Spitzer 2","wl":4.51,"flux":0.52},{"series":"Spitzer 2","wl":4.56,"flux":0.50},{"series":"Spitzer 2","wl":4.60,"flux":0.49},{"series":"Spitzer 2","wl":4.65,"flux":0.48},{"series":"Spitzer 2","wl":4.69,"flux":0.50},{"series":"Spitzer 2","wl":4.74,"flux":0.47},{"series":"Spitzer 2","wl":4.79,"flux":0.46},{"series":"Spitzer 2","wl":4.85,"flux":0.455},{"series":"Spitzer 2","wl":4.90,"flux":0.455},{"series":"Spitzer 2","wl":4.94,"flux":0.43},{"series":"Spitzer 2","wl":4.97,"flux":0.375},{"series":"Spitzer 2","wl":5.00,"flux":0.25},{"series":"Spitzer 2","wl":5.02,"flux":0.10},{"series":"Spitzer 2","wl":5.04,"flux":0.0}
    ],
    "phot": [
      {"series":"WISE 1","wl":3.35,"flux":0.036},
      {"series":"Spitzer 1","wl":3.51,"flux":0.054},
      {"series":"Spitzer 2","wl":4.44,"flux":0.087},
      {"series":"WISE 2","wl":4.60,"flux":0.073}
    ]
  },
  "encoding": {
    "x": {
      "field": "wl", "type": "quantitative",
      "scale": {"domain": [1, 7], "nice": false, "zero": false},
      "axis": {"values": [1, 2, 3, 4, 5, 6, 7], "format": "d", "title": "Wavelength / μm", "titlePadding": 5, "labelPadding": 5}
    },
    "y": {
      "field": "flux", "type": "quantitative",
      "scale": {"domain": [0, 1.5], "nice": false},
      "axis": {"values": [0, 0.2, 0.4, 0.6, 0.8, 1.0, 1.2, 1.4], "format": ".1f", "title": "Fλ / (10⁻¹⁵)Wm⁻²μm⁻¹", "titlePadding": 0, "titleFontSize": 17}
    },
    "color": {
      "field": "series", "type": "nominal",
      "scale": {
        "domain": ["Ross-458C data", "retrieval model", "Sonora 700 K log g = 4.5", "WISE 1", "WISE 2", "Spitzer 1", "Spitzer 2"],
        "range": ["#000000", "#bcbd22", "#ff0000", "#0000ff", "#ff7f0e", "#008000", "#800000"]
      },
      "legend": {
        "title": null,
        "orient": "top-right",
        "offset": 7,
        "padding": 6,
        "cornerRadius": 4,
        "strokeColor": "#cccccc",
        "fillColor": "rgba(255,255,255,0.85)",
        "rowPadding": 3.8,
        "symbolOffset": 6,
        "labelOffset": 20,
        "symbolSize": 256,
        "symbolStrokeWidth": 2,
        "labelLimit": 300,
        "encode": {
          "symbols": {
            "update": {
              "shape": {"signal": "indexof(['WISE 1','WISE 2','Spitzer 1','Spitzer 2'], datum.value) >= 0 ? 'M0,-0.75V0.75M-0.34,0A0.34,0.34 0 1,0 0.34,0A0.34,0.34 0 1,0 -0.34,0' : 'M-2,0H2'"},
              "fill": {"scale": "color", "field": "value"},
              "stroke": {"scale": "color", "field": "value"},
              "strokeWidth": {"value": 2},
              "size": {"value": 256},
              "opacity": {"value": 1}
            }
          }
        }
      }
    }
  },
  "layer": [
    {
      "data": {"name": "spectra"},
      "transform": [{"filter": "datum.series === 'Ross-458C data'"}],
      "mark": {"type": "line", "strokeWidth": 2, "strokeJoin": "round"}
    },
    {
      "data": {"name": "spectra"},
      "transform": [{"filter": "datum.series === 'retrieval model'"}],
      "mark": {"type": "line", "strokeWidth": 2.3, "strokeJoin": "round"}
    },
    {
      "data": {"name": "spectra"},
      "transform": [{"filter": "datum.series === 'Sonora 700 K log g = 4.5'"}],
      "mark": {"type": "line", "strokeWidth": 1.3, "strokeJoin": "round"}
    },
    {
      "data": {"name": "bands"},
      "mark": {"type": "line", "strokeWidth": 1.3, "strokeDash": [4, 2], "opacity": 0.75}
    },
    {
      "data": {"name": "phot"},
      "mark": {"type": "point", "filled": true, "size": 32, "opacity": 1}
    }
  ]
}
